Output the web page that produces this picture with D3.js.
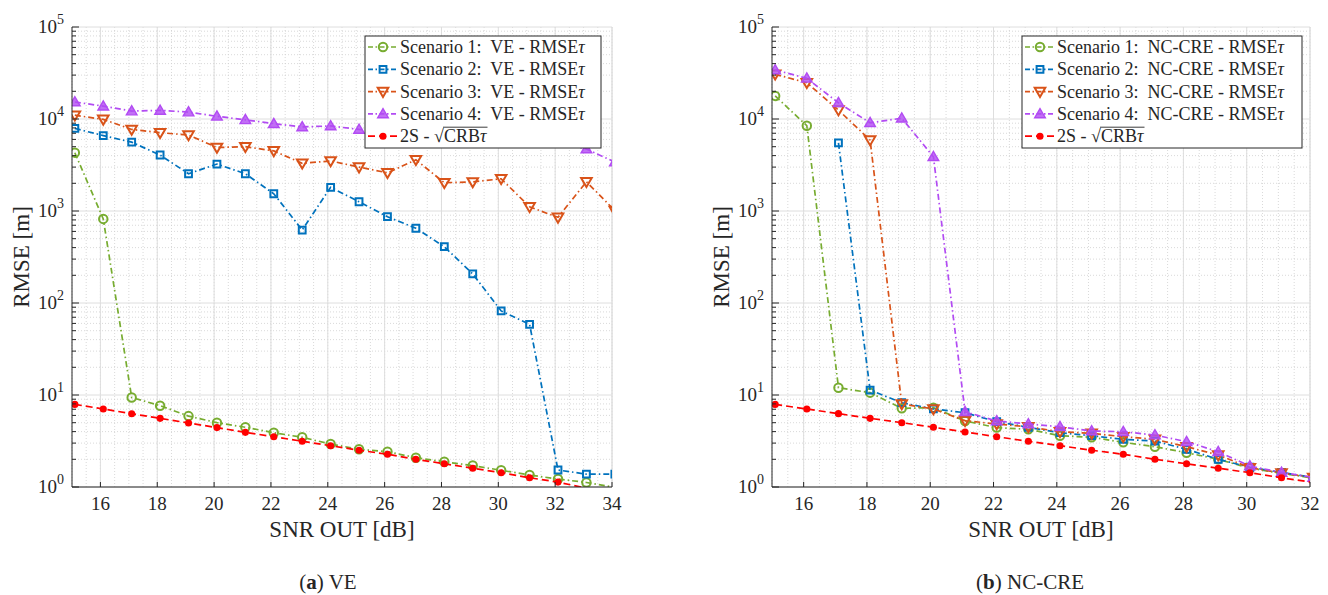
<!DOCTYPE html>
<html>
<head>
<meta charset="utf-8">
<script src="https://cdn.jsdelivr.net/npm/d3@7"></script>
<style>
  body { margin: 0; background: #fff; }
  svg { display: block; }
  svg text { font-family: 'Liberation Serif', 'Times New Roman', Times, 'DejaVu Serif', 'Noto Serif', serif; fill: #262626; }
</style>
</head>
<body>
<svg id="chart" width="1328" height="595" font-family="'Liberation Serif', 'Times New Roman', Times, 'DejaVu Serif', serif"></svg>
<script>
// ---- data ----
var snrVE = [15.1,16.1,17.1,18.1,19.1,20.1,21.1,22.1,23.1,24.1,25.1,26.1,27.1,28.1,29.1,30.1,31.1,32.1,33.1,34.1];
var snrNC = [15.1,16.1,17.1,18.1,19.1,20.1,21.1,22.1,23.1,24.1,25.1,26.1,27.1,28.1,29.1,30.1,31.1,32.1];

var veS1 = [4300,820,9.4,7.65,5.9,5.0,4.46,3.89,3.47,2.93,2.57,2.42,2.08,1.88,1.71,1.52,1.35,1.22,1.12,0.99];
var veS2 = [7900,6600,5600,4060,2540,3240,2540,1540,621,1810,1260,867,649,409,207,82,58.7,1.53,1.38,1.38];
var veS3 = [11000,9900,7700,7100,6700,4900,5000,4500,3300,3500,3000,2600,3600,2030,2070,2240,1110,853,2080,1010];
var veS4 = [15300,13800,12200,12400,11900,10700,9800,8900,8200,8400,7700,7400,7100,6800,6500,6200,5900,5500,4720,3400];
var veCRB = [7.9,7.05,6.26,5.58,4.96,4.42,3.93,3.52,3.14,2.81,2.51,2.27,2.0,1.79,1.6,1.43,1.26,1.13,0.97,0.88];

var ncS1 = [17800,8450,12.0,10.6,7.17,7.28,5.22,4.42,4.24,3.61,3.47,3.06,2.74,2.36,2.0,1.6,1.41,1.25];
var ncS2 = [null,null,5500,11.3,8.25,7.05,6.42,5.13,4.46,3.89,3.61,3.3,3.16,2.57,2.0,1.64,1.44,1.27];
var ncS3 = [30600,24800,12500,5900,7.98,7.05,5.26,4.84,4.5,3.99,3.83,3.52,3.3,2.74,2.23,1.62,1.42,1.27];
var ncS4 = [34100,27700,15000,9100,10200,3890,6.58,5.22,4.84,4.52,4.06,3.99,3.67,3.11,2.42,1.69,1.44,1.27];
var ncCRB = [7.9,7.05,6.27,5.58,5.0,4.46,3.96,3.52,3.14,2.81,2.51,2.27,2.0,1.79,1.6,1.43,1.26,1.12];

var xTicksVE = [16,18,20,22,24,26,28,30,32,34];
var xTicksNC = [16,18,20,22,24,26,28,30,32];
var yDecades = [1,10,100,1000,10000,100000];

var colors = ["#77AC30", "#0072BD", "#D95319", "#B24BF3", "#FF0000"];
var markers = ["circle", "square", "tridown", "triup", "dot"];

var svg = d3.select("#chart");

function markerPath(type) {
  if (type == "circle") return d3.symbol().type(d3.symbolCircle).size(56)();
  if (type == "square") return "M-3.4,-3.4L3.4,-3.4L3.4,3.4L-3.4,3.4Z";
  if (type == "tridown") return "M-5.3,-3.8L5.3,-3.8L0,5.3Z";
  if (type == "triup") return "M-5.3,3.8L5.3,3.8L0,-5.3Z";
  return d3.symbol().type(d3.symbolCircle).size(40)();
}

function drawMarker(sel, type, c) {
  var p = sel.append("path").attr("d", markerPath(type));
  if (type == "dot") p.attr("fill", c);
  else if (type == "triup") p.attr("fill", c).attr("fill-opacity", 0.8).attr("stroke", c).attr("stroke-width", 1.4);
  else p.attr("fill", "none").attr("stroke", c).attr("stroke-width", 2);
  return p;
}

function dashFor(i) { return i == 4 ? "7,4" : "6,3,1.5,3"; }

function drawPanel(opt) {
  var x = d3.scaleLinear().domain(opt.xDomain).range([opt.left, opt.right]);
  var y = d3.scaleLog().domain([1, 1e5]).range([487, 27]);
  var g = svg.append("g");

  // grid - minor
  var minorX = d3.range(opt.xDomain[0], opt.xDomain[1] + 0.01, 0.5);
  g.selectAll(".mx").data(minorX).enter().append("line")
    .attr("x1", d => x(d)).attr("x2", d => x(d)).attr("y1", 27).attr("y2", 487)
    .attr("stroke", "#cfcfcf").attr("stroke-width", 0.8).attr("stroke-dasharray", "1,2");
  var minorY = [];
  yDecades.slice(0, 5).forEach(function(d) { for (var k = 2; k < 10; k++) minorY.push(d * k); });
  g.selectAll(".my").data(minorY).enter().append("line")
    .attr("x1", opt.left).attr("x2", opt.right).attr("y1", d => y(d)).attr("y2", d => y(d))
    .attr("stroke", "#cfcfcf").attr("stroke-width", 0.8).attr("stroke-dasharray", "1,2");
  // grid - major
  g.selectAll(".gx").data(opt.xTicks.concat([opt.xDomain[1]])).enter().append("line")
    .attr("x1", d => x(d)).attr("x2", d => x(d)).attr("y1", 27).attr("y2", 487)
    .attr("stroke", "#dedede").attr("stroke-width", 1);
  g.selectAll(".gy").data(yDecades).enter().append("line")
    .attr("x1", opt.left).attr("x2", opt.right).attr("y1", d => y(d)).attr("y2", d => y(d))
    .attr("stroke", "#dedede").attr("stroke-width", 1);

  // clip
  var cid = "clip" + opt.id;
  svg.append("clipPath").attr("id", cid).append("rect")
    .attr("x", opt.left).attr("y", 27).attr("width", opt.right - opt.left).attr("height", 460);

  var lines = g.append("g").attr("clip-path", "url(#" + cid + ")");
  opt.series.forEach(function(vals, i) {
    var pts = vals.map(function(v, j) { return {x: opt.snr[j], v: v}; });
    var line = d3.line().defined(d => d.v != null).x(d => x(d.x)).y(d => y(d.v));
    lines.append("path").attr("d", line(pts)).attr("fill", "none")
      .attr("stroke", colors[i]).attr("stroke-width", 1.7).attr("stroke-dasharray", dashFor(i));
    pts.filter(d => d.v != null && d.v >= 1 && d.v <= 1e5).forEach(function(d) {
      drawMarker(lines.append("g").attr("transform", "translate(" + x(d.x) + "," + y(d.v) + ")"), markers[i], colors[i]);
    });
  });

  // axes lines and ticks
  g.append("line").attr("x1", opt.left).attr("x2", opt.left).attr("y1", 27).attr("y2", 487)
    .attr("stroke", "#262626").attr("stroke-width", 1);
  g.append("line").attr("x1", opt.left).attr("x2", opt.right).attr("y1", 487).attr("y2", 487)
    .attr("stroke", "#262626").attr("stroke-width", 1);
  g.selectAll(".tx").data(opt.xTicks).enter().append("line")
    .attr("x1", d => x(d)).attr("x2", d => x(d)).attr("y1", 487).attr("y2", 482)
    .attr("stroke", "#262626");
  g.selectAll(".ty").data(yDecades).enter().append("line")
    .attr("x1", opt.left).attr("x2", opt.left + 7).attr("y1", d => y(d)).attr("y2", d => y(d))
    .attr("stroke", "#262626");
  g.selectAll(".tym").data(minorY).enter().append("line")
    .attr("x1", opt.left).attr("x2", opt.left + 4).attr("y1", d => y(d)).attr("y2", d => y(d))
    .attr("stroke", "#262626");

  // tick labels
  g.selectAll(".lx").data(opt.xTicks).enter().append("text")
    .attr("x", d => x(d)).attr("y", 510).attr("text-anchor", "middle")
    .style("font-size", "19px").text(d => d);
  var yl = g.selectAll(".ly").data(yDecades).enter().append("text")
    .attr("x", opt.left - 8).attr("y", d => y(d) + 6).attr("text-anchor", "end")
    .style("font-size", "19px");
  yl.append("tspan").text("10");
  yl.append("tspan").attr("dy", -9).style("font-size", "14px").text(d => Math.round(Math.log10(d)));

  // axis labels
  g.append("text").attr("x", (opt.left + opt.right) / 2).attr("y", 537).attr("text-anchor", "middle")
    .style("font-size", "23px").text("SNR OUT [dB]");
  g.append("text").attr("transform", "translate(" + (opt.left - 43) + ",257) rotate(-90)")
    .attr("text-anchor", "middle").style("font-size", "23px").text("RMSE [m]");

  // caption
  var cap = g.append("text").attr("x", opt.capX).attr("y", 589).attr("text-anchor", "middle")
    .style("font-size", "21px");
  cap.append("tspan").text("(");
  cap.append("tspan").style("font-weight", "bold").text(opt.capLetter);
  cap.append("tspan").text(") " + opt.capName);

  // legend
  var lg = g.append("g");
  lg.append("rect").attr("x", opt.legX).attr("y", 36).attr("width", opt.legW).attr("height", 112)
    .attr("fill", "#fff").attr("stroke", "#262626").attr("stroke-width", 1);
  opt.names.forEach(function(name, i) {
    var ry = 47 + i * 22.3;
    var lx = opt.legX + 3;
    lg.append("line").attr("x1", lx).attr("x2", lx + 30).attr("y1", ry).attr("y2", ry)
      .attr("stroke", colors[i]).attr("stroke-width", 1.7).attr("stroke-dasharray", i == 4 ? "7,4" : "5,2.5,1.5,2.5");
    drawMarker(lg.append("g").attr("transform", "translate(" + (lx + 15) + "," + ry + ")"), markers[i], colors[i]);
    var tx = opt.legX + 35;
    if (i < 4) {
      var t = lg.append("text").attr("x", tx).attr("y", ry + 6).style("font-size", "18px")
        .attr("xml:space", "preserve");
      t.append("tspan").text(name);
      t.append("tspan").style("font-style", "italic").text("τ");
    } else {
      var t1 = lg.append("text").attr("x", tx).attr("y", ry + 6).style("font-size", "18px")
        .attr("xml:space", "preserve").text("2S - ");
      var w1 = t1.node().getComputedTextLength();
      lg.append("text").attr("x", tx + w1).attr("y", ry + 6).style("font-size", "18px").text("√");
      var sx = tx + w1 + 10;
      var t2 = lg.append("text").attr("x", sx).attr("y", ry + 6).style("font-size", "18px");
      t2.append("tspan").text("CRB");
      t2.append("tspan").style("font-style", "italic").text("τ");
      var w2 = t2.node().getComputedTextLength();
      lg.append("line").attr("x1", sx - 1).attr("x2", sx + w2 + 1).attr("y1", ry - 9).attr("y2", ry - 9)
        .attr("stroke", "#262626").attr("stroke-width", 0.9);
    }
  });
}

drawPanel({
  id: "ve", left: 72, right: 612, xDomain: [15, 34], xTicks: xTicksVE, snr: snrVE,
  series: [veS1, veS2, veS3, veS4, veCRB],
  names: ["Scenario 1:  VE - RMSE", "Scenario 2:  VE - RMSE", "Scenario 3:  VE - RMSE", "Scenario 4:  VE - RMSE", "2S"],
  legX: 365, legW: 236, capX: 328, capLetter: "a", capName: "VE"
});
drawPanel({
  id: "nc", left: 772, right: 1310, xDomain: [15, 32], xTicks: xTicksNC, snr: snrNC,
  series: [ncS1, ncS2, ncS3, ncS4, ncCRB],
  names: ["Scenario 1:  NC-CRE - RMSE", "Scenario 2:  NC-CRE - RMSE", "Scenario 3:  NC-CRE - RMSE", "Scenario 4:  NC-CRE - RMSE", "2S"],
  legX: 1022, legW: 280, capX: 1030, capLetter: "b", capName: "NC-CRE"
});
</script>
</body>
</html>
